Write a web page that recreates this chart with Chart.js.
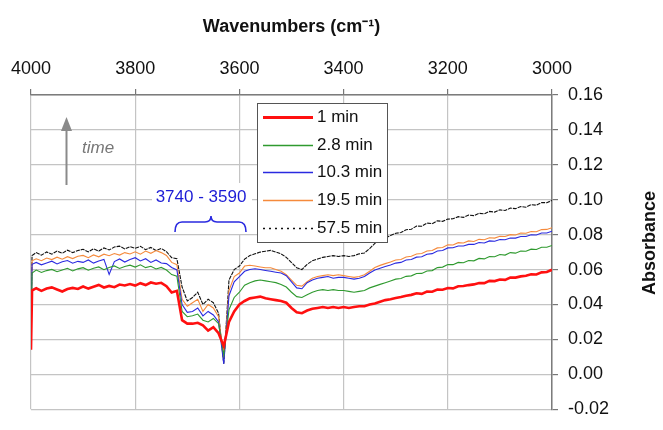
<!DOCTYPE html>
<html><head><meta charset="utf-8">
<script src="https://cdn.jsdelivr.net/npm/chart.js@4.4.1/dist/chart.umd.min.js"></script>
<style>html,body{margin:0;padding:0;background:#fff}#wrap{width:663px;height:430px}</style>
</head><body><div id="wrap"><canvas id="c" width="663" height="430"></canvas></div>
<script>
// ---------------- data ----------------
const wavenumbers = [
 4000,3998,3990,3980,3970,3960,3950,3940,3930,3920,3910,
 3900,3890,3880,3870,3860,3850,3840,3830,3820,3810,
 3800,3790,3780,3770,3760,3750,3740,3730,3720,3710,
 3700,3690,3680,3670,3660,3650,3640,3630,3620,3610,
 3600,3590,3580,3570,3560,3550,3540,3530,3520,3510,
 3500,3490,3480,3470,3460,3450,3440,3430,3420,3410,
 3400,3390,3380,3370,3360,3350,3340,3330,3320,3310,
 3300,3290,3280,3270,3260,3250,3240,3230,3220,3210,
 3200,3190,3180,3170,3160,3150,3140,3130,3120,3110,
 3100,3090,3080,3070,3060,3050,3040,3030,3020,3010,
 3000];
const abs1min = [
 0.014,0.048,0.0493,0.0478,0.0491,0.0498,0.0486,0.0474,0.0488,0.0495,0.0489,
 0.0503,0.0491,0.0502,0.0512,0.0497,0.0506,0.0499,0.0514,0.0509,0.0517,
 0.0508,0.0522,0.0511,0.0526,0.0519,0.0524,0.0505,0.0468,0.0478,0.031,
 0.029,0.029,0.0295,0.028,0.025,0.027,0.0235,0.016,0.030,0.036,
 0.040,0.042,0.0435,0.044,0.0445,0.0435,0.043,0.0425,0.042,0.041,
 0.038,0.0355,0.035,0.0365,0.0375,0.038,0.0385,0.038,0.0385,0.038,
 0.0385,0.038,0.0385,0.039,0.039,0.040,0.0405,0.0415,0.0425,0.043,
 0.0437,0.0443,0.0450,0.0455,0.0464,0.0461,0.0474,0.0473,0.0485,0.0484,
 0.0494,0.0492,0.0504,0.0506,0.0511,0.0515,0.0523,0.0522,0.0535,0.0534,
 0.0543,0.0541,0.0554,0.0554,0.0561,0.0564,0.0573,0.0572,0.0584,0.0586,
 0.0599];
const abs2_8min = [
 0.020,0.058,0.0597,0.0583,0.0594,0.0601,0.0588,0.0598,0.0607,0.0592,0.0604,
 0.0611,0.0596,0.0608,0.0615,0.0599,0.0612,0.0621,0.0606,0.0618,0.0625,
 0.0614,0.0627,0.0611,0.0619,0.0603,0.0612,0.0597,0.0571,0.0562,0.036,
 0.033,0.0335,0.0345,0.031,0.030,0.032,0.029,0.011,0.037,0.044,
 0.047,0.051,0.0525,0.0535,0.054,0.0535,0.053,0.0525,0.0515,0.050,
 0.047,0.0445,0.044,0.0455,0.047,0.048,0.0485,0.048,0.0485,0.048,
 0.048,0.0475,0.047,0.0475,0.048,0.0495,0.0505,0.0515,0.0525,0.0535,
 0.0545,0.0549,0.0561,0.0564,0.0577,0.0578,0.0592,0.0594,0.0611,0.0614,
 0.0629,0.0628,0.0641,0.0639,0.0652,0.0650,0.0664,0.0661,0.0675,0.0673,
 0.0686,0.0683,0.0697,0.0694,0.0706,0.0705,0.0717,0.0715,0.0728,0.0728,
 0.0738];
const abs10_3min = [
 0.022,0.063,0.0641,0.0627,0.0638,0.0648,0.0632,0.0645,0.0652,0.0636,0.0647,
 0.0641,0.0655,0.0637,0.0649,0.0658,0.0572,0.0646,0.0661,0.0643,0.0657,
 0.0668,0.0649,0.0662,0.0641,0.0655,0.0638,0.0634,0.0612,0.0598,0.040,
 0.0355,0.036,0.038,0.0335,0.036,0.034,0.030,0.006,0.045,0.053,
 0.056,0.059,0.060,0.0605,0.060,0.0595,0.059,0.0585,0.058,0.0565,
 0.053,0.0495,0.049,0.0525,0.054,0.055,0.0555,0.056,0.055,0.0555,
 0.0555,0.055,0.0545,0.055,0.056,0.058,0.0598,0.0608,0.0617,0.0626,
 0.0637,0.0641,0.0655,0.0658,0.0671,0.0673,0.0688,0.0691,0.0706,0.0709,
 0.0724,0.0725,0.0735,0.0735,0.0744,0.0744,0.0755,0.0752,0.0764,0.0762,
 0.0772,0.0771,0.0781,0.0780,0.0789,0.0789,0.0799,0.0798,0.0809,0.0809,
 0.0820];
const abs19_5min = [
 0.018,0.065,0.0662,0.0651,0.0666,0.0657,0.0671,0.0659,0.0674,0.0663,0.0676,
 0.0681,0.0668,0.0684,0.0673,0.0688,0.0679,0.0692,0.0683,0.0697,0.0689,
 0.0702,0.0688,0.0706,0.0693,0.0709,0.0697,0.0681,0.0641,0.0628,0.043,
 0.039,0.041,0.043,0.036,0.040,0.038,0.033,0.009,0.048,0.056,
 0.058,0.062,0.0625,0.062,0.0615,0.061,0.061,0.060,0.059,0.057,
 0.054,0.051,0.0505,0.053,0.055,0.056,0.0565,0.057,0.0565,0.057,
 0.0565,0.056,0.0555,0.056,0.057,0.059,0.0612,0.0624,0.0634,0.0643,
 0.0655,0.0658,0.0672,0.0676,0.0689,0.0692,0.0706,0.0709,0.0724,0.0726,
 0.0742,0.0741,0.0754,0.0752,0.0764,0.0761,0.0773,0.0771,0.0782,0.0780,
 0.0791,0.0789,0.0800,0.0798,0.0809,0.0808,0.0818,0.0817,0.0829,0.0830,
 0.0840];
const abs57_5min = [
 0.025,0.068,0.0697,0.0682,0.0701,0.0688,0.0706,0.0693,0.0711,0.0697,0.0709,
 0.0716,0.0701,0.0719,0.0706,0.0724,0.0712,0.0729,0.0734,0.0718,0.0731,
 0.0722,0.0733,0.0714,0.0727,0.0709,0.0721,0.0702,0.0668,0.0662,0.050,
 0.042,0.044,0.047,0.040,0.043,0.041,0.035,0.006,0.054,0.060,
 0.062,0.066,0.068,0.069,0.070,0.0705,0.071,0.070,0.069,0.067,
 0.064,0.061,0.060,0.063,0.065,0.066,0.067,0.0675,0.068,0.0675,
 0.068,0.0675,0.068,0.069,0.0695,0.072,0.075,0.077,0.078,0.0795,
 0.0808,0.0812,0.0828,0.0831,0.0849,0.0848,0.0866,0.0863,0.0879,0.0876,
 0.0889,0.0891,0.0903,0.0899,0.0912,0.0909,0.0922,0.0919,0.0933,0.0929,
 0.0942,0.0938,0.0952,0.0949,0.0961,0.0957,0.0972,0.0969,0.0984,0.0983,
 0.0996];
const seriesLabels = ['1 min','2.8 min','10.3 min','19.5 min','57.5 min'];
const xTickValues = [4000,3800,3600,3400,3200,3000];
const yTickValues = [-0.02,0.00,0.02,0.04,0.06,0.08,0.10,0.12,0.14,0.16];
const rangeLabel = '3740 - 3590';

// ---------------- chart ----------------
const FONT = '"Liberation Sans", Arial, Helvetica, sans-serif';
const seriesData = [abs1min, abs2_8min, abs10_3min, abs19_5min, abs57_5min];
const styles = [
  {color:'#ff1010', width:2.6, dash:[]},
  {color:'#2f9a2f', width:1.1, dash:[]},
  {color:'#2a2ae0', width:1.1, dash:[]},
  {color:'#f58a3c', width:1.1, dash:[]},
  {color:'#111111', width:1.1, dash:[4,1]}
];
const datasets = seriesData.map((arr, i) => ({
  label: seriesLabels[i],
  data: arr.map((v, j) => ({x: wavenumbers[j], y: v})),
  borderColor: styles[i].color,
  borderWidth: styles[i].width,
  borderDash: styles[i].dash,
  pointRadius: 0,
  tension: 0,
  fill: false
}));
const overlay = {
  id: 'overlay',
  beforeDatasetsDraw(chart) {
    const ctx = chart.ctx;
    ctx.save();
    ctx.fillStyle = '#ffffff';
    ctx.fillRect(152, 183, 100, 51);
    ctx.fillStyle = '#1c1cd6';
    ctx.font = '17px ' + FONT;
    ctx.textAlign = 'center';
    ctx.textBaseline = 'middle';
    ctx.fillText(rangeLabel, 201, 197);
    const xl = 175, xr = 246, xc = 211, yt = 216, ym = 222, yb = 232;
    ctx.strokeStyle = '#2a2ae0';
    ctx.lineWidth = 1.6;
    ctx.beginPath();
    ctx.moveTo(xl, yb);
    ctx.quadraticCurveTo(xl, ym, xl + 7, ym);
    ctx.lineTo(xc - 6, ym);
    ctx.quadraticCurveTo(xc, ym, xc, yt);
    ctx.quadraticCurveTo(xc, ym, xc + 6, ym);
    ctx.lineTo(xr - 7, ym);
    ctx.quadraticCurveTo(xr, ym, xr, yb);
    ctx.stroke();
    ctx.strokeStyle = '#8a8a8a';
    ctx.fillStyle = '#8a8a8a';
    ctx.lineWidth = 2;
    ctx.beginPath();
    ctx.moveTo(66.5, 185);
    ctx.lineTo(66.5, 128);
    ctx.stroke();
    ctx.beginPath();
    ctx.moveTo(66.5, 117);
    ctx.lineTo(61, 131);
    ctx.lineTo(72, 131);
    ctx.closePath();
    ctx.fill();
    ctx.fillStyle = '#777777';
    ctx.font = 'italic 17px ' + FONT;
    ctx.textAlign = 'left';
    ctx.fillText('time', 82, 148);
    ctx.restore();
  },
  afterDatasetsDraw(chart) {
    const ctx = chart.ctx;
    ctx.save();
    ctx.fillStyle = '#ffffff';
    ctx.fillRect(257, 103, 130, 139);
    ctx.strokeStyle = '#555555';
    ctx.lineWidth = 1;
    ctx.strokeRect(257.5, 103.5, 130, 139);
    const rows = [117, 145, 172, 200, 228];
    chart.data.datasets.forEach((ds, i) => {
      ctx.strokeStyle = ds.borderColor;
      ctx.lineWidth = i === 0 ? 3 : 1.3;
      ctx.setLineDash(i === 4 ? [2, 4] : []);
      ctx.beginPath();
      ctx.moveTo(263, rows[i] + 0.5);
      ctx.lineTo(313, rows[i] + 0.5);
      ctx.stroke();
      ctx.setLineDash([]);
      ctx.fillStyle = '#111';
      ctx.font = '17px ' + FONT;
      ctx.textAlign = 'left';
      ctx.textBaseline = 'middle';
      ctx.fillText(ds.label, 317, rows[i]);
    });
    ctx.translate(650, 243);
    ctx.rotate(-Math.PI / 2);
    ctx.fillStyle = '#111';
    ctx.font = 'bold 18px ' + FONT;
    ctx.textAlign = 'center';
    ctx.textBaseline = 'middle';
    ctx.fillText('Absorbance', 0, 0);
    ctx.restore();
  }
};

new Chart(document.getElementById('c'), {
  type: 'line',
  data: {datasets},
  options: {
    responsive: false,
    animation: false,
    events: [],
    layout: {padding: {left: 31, right: 0, top: 0, bottom: 8}},
    plugins: {legend: {display: false}, tooltip: {enabled: false}},
    scales: {
      x: {
        type: 'linear',
        position: 'top',
        reverse: true,
        min: 3000, max: 4000,
        afterBuildTicks(s) { s.ticks = xTickValues.map(v => ({value: v})); },
        afterFit(s) { s.height = 95; },
        ticks: {color: '#111', font: {family: FONT, size: 18}, padding: 9, maxRotation: 0,
                callback: v => String(v)},
        grid: {color: '#c4c4c4', lineWidth: 1.2, tickLength: 6, tickColor: '#777'},
        border: {color: '#7c7c7c', width: 1.5},
        title: {display: true, text: 'Wavenumbers (cm⁻¹)', color: '#111',
                font: {family: FONT, size: 18, weight: 'bold'}, padding: {top: 16, bottom: 0}}
      },
      y: {
        type: 'linear',
        position: 'right',
        min: -0.02, max: 0.16,
        afterBuildTicks(s) { s.ticks = yTickValues.map(v => ({value: v})); },
        afterFit(s) { s.width = 111; },
        ticks: {color: '#111', font: {family: FONT, size: 18}, padding: 10,
                callback: v => v.toFixed(2)},
        grid: {color: '#c4c4c4', lineWidth: 1.2, tickLength: 6, tickColor: '#777'},
        border: {color: '#7c7c7c', width: 1.5}
      }
    }
  },
  plugins: [overlay]
});
</script>
</body></html>
